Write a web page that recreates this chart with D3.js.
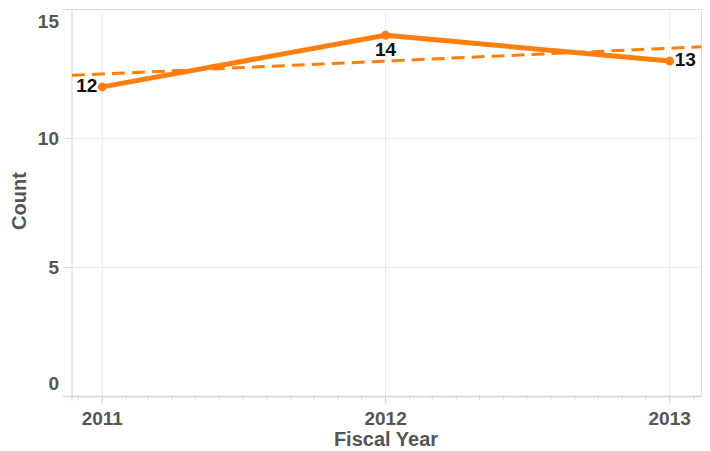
<!DOCTYPE html>
<html><head><meta charset="utf-8">
<script src="https://cdn.jsdelivr.net/npm/d3@7"></script>
<style>body{margin:0;background:#fff}svg{display:block;font-family:"Liberation Sans",Arial,sans-serif}</style>
</head><body><svg id="c" width="710" height="451"></svg>
<script>
const years = [2011, 2012, 2013];
const counts = [12, 14, 13];
const yTicks = [0, 5, 10, 15];
const labelPos = ["left", "below", "right"];

const svg = d3.select("#c");
const L = 72, R = 701.5, T = 9.5, B = 396.5;
const d = y => new Date(y, 0, 1);
const x = d3.scaleTime().domain([new Date(2010, 10, 23), new Date(2013, 1, 11)]).range([L, R]);
const y = d3.scaleLinear().domain([0, 15]).range([B, T]);

// gridlines
const g = svg.append("g");
g.selectAll("line.hy").data(yTicks.slice(1, 3)).join("line")
  .attr("x1", L).attr("x2", R).attr("y1", v => y(v)).attr("y2", v => y(v))
  .attr("stroke", "#ebebeb").attr("stroke-width", 1);
g.selectAll("line.vx").data(years).join("line")
  .attr("x1", v => x(d(v))).attr("x2", v => x(d(v))).attr("y1", T).attr("y2", B)
  .attr("stroke", "#ebebeb").attr("stroke-width", 1);
// border
g.append("line").attr("x1", 63).attr("x2", R).attr("y1", T).attr("y2", T).attr("stroke", "#dcdcdc");
g.append("line").attr("x1", R).attr("x2", R).attr("y1", T).attr("y2", B).attr("stroke", "#dcdcdc");
// y ticks
g.selectAll("line.yt").data(yTicks).join("line")
  .attr("x1", 63).attr("x2", L).attr("y1", v => y(v)).attr("y2", v => y(v))
  .attr("stroke", "#dcdcdc");
g.append("line").attr("x1", L).attr("x2", L).attr("y1", T).attr("y2", B + 4).attr("stroke", "#d4d4d4");
g.append("line").attr("x1", 63).attr("x2", R).attr("y1", B).attr("y2", B).attr("stroke", "#d4d4d4").attr("stroke-width", 1.5);

// x ticks (monthly minor, yearly major)
const months = x.ticks(d3.timeMonth.every(1));
g.selectAll("line.mt").data(months).join("line")
  .attr("x1", m => x(m)).attr("x2", m => x(m)).attr("y1", B)
  .attr("y2", m => m.getMonth() === 0 ? B + 7 : B + 3)
  .attr("stroke", "#cfcfcf");

const FS = 19;
// y tick labels
const yLab = {0: 385, 5: null, 10: null, 15: 23};
svg.selectAll("text.yl").data(yTicks).join("text")
  .attr("x", 59).attr("y", v => yLab[v] != null ? yLab[v] : y(v) + 1.5)
  .attr("text-anchor", "end").attr("dominant-baseline", "middle")
  .attr("font-size", FS).attr("font-weight", "bold").attr("fill", "#555").text(v => v);

// x tick labels
svg.selectAll("text.xl").data(years).join("text")
  .attr("x", v => x(d(v))).attr("y", 420).attr("text-anchor", "middle").attr("dominant-baseline", "middle")
  .attr("font-size", FS).attr("font-weight", "bold").attr("fill", "#555").text(v => v);

// axis titles
svg.append("text").attr("x", 386).attr("y", 441).attr("text-anchor", "middle").attr("dominant-baseline", "middle")
  .attr("font-size", 20).attr("font-weight", "bold").attr("fill", "#555").text("Fiscal Year");
svg.append("text").attr("transform", "translate(21,201) rotate(-90)").attr("text-anchor", "middle").attr("dominant-baseline", "middle")
  .attr("font-size", 20).attr("font-weight", "bold").attr("fill", "#555").text("Count");

const orange = "#ff7f0e";
// trend line: least squares on the data
const xs = years.map(v => +d(v));
const mx = d3.mean(xs), my = d3.mean(counts);
const slope = d3.sum(xs.map((xv, i) => (xv - mx) * (counts[i] - my))) / d3.sum(xs.map(xv => (xv - mx) ** 2));
const fx = t => my + slope * (t - mx);
const [t0, t1] = x.domain().map(Number);
svg.append("clipPath").attr("id", "clp").append("rect").attr("x", L).attr("y", T).attr("width", R - L).attr("height", B - T);
svg.append("line").attr("clip-path", "url(#clp)")
  .attr("x1", x(t0)).attr("y1", y(fx(t0))).attr("x2", x(t1)).attr("y2", y(fx(t1)))
  .attr("stroke", orange).attr("stroke-width", 3).attr("stroke-dasharray", "13,7");

const pts = years.map((v, i) => ({t: d(v), c: counts[i], pos: labelPos[i]}));
svg.append("path").datum(pts)
  .attr("d", d3.line().x(p => x(p.t)).y(p => y(p.c)))
  .attr("fill", "none").attr("stroke", orange).attr("stroke-width", 5).attr("stroke-linejoin", "round");
svg.selectAll("circle.pt").data(pts).join("circle")
  .attr("cx", p => x(p.t)).attr("cy", p => y(p.c)).attr("r", 4.5).attr("fill", orange);

svg.selectAll("text.dl").data(pts).join("text")
  .attr("x", p => x(p.t) + (p.pos === "left" ? -5 : p.pos === "right" ? 5 : 0))
  .attr("y", p => y(p.c) + (p.pos === "below" ? 16 : 0))
  .attr("text-anchor", p => p.pos === "left" ? "end" : p.pos === "right" ? "start" : "middle")
  .attr("dominant-baseline", "middle")
  .attr("font-size", FS).attr("font-weight", "bold").attr("fill", "#111").text(p => p.c);
</script></body></html>
